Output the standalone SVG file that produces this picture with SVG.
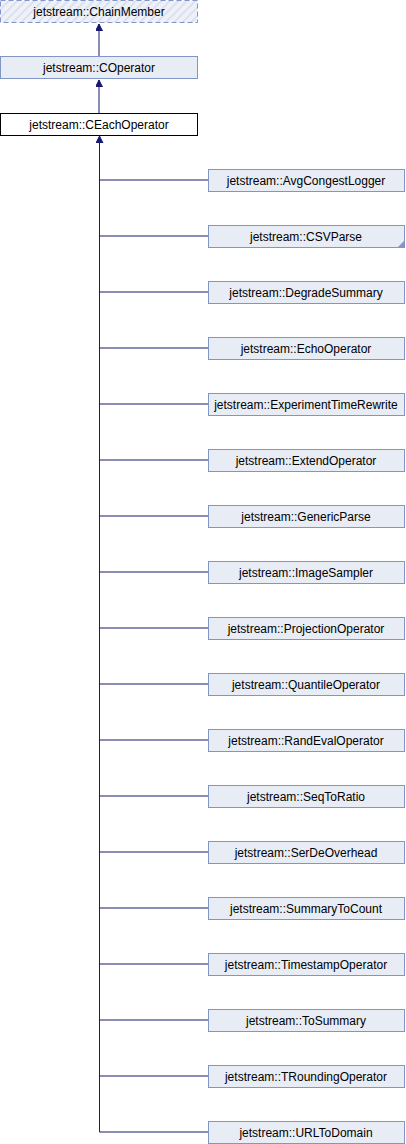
<svg xmlns="http://www.w3.org/2000/svg" width="406" height="1144" viewBox="0 0 406 1144">
<style>
.n{fill:#e8ecf5;stroke:#8196c6;stroke-width:1}
.t{font-family:"Liberation Sans",Arial,sans-serif;font-size:12px;text-anchor:middle;fill:#000}
.e{stroke:#191970;stroke-width:1;fill:none}
</style>
<defs>
<pattern id="h" width="6" height="6" patternUnits="userSpaceOnUse" patternTransform="rotate(45)">
<rect width="6" height="6" fill="#eef1f8"/>
<line x1="0" y1="0" x2="0" y2="6" stroke="#d6dcec" stroke-width="3"/>
</pattern>
<marker id="a" markerWidth="8" markerHeight="8" refX="7" refY="3.5" orient="auto" markerUnits="userSpaceOnUse">
<path d="M0,0 L7,3.5 L0,7 Z" fill="#191970" stroke="#191970"/>
</marker>
</defs>
<rect width="406" height="1144" fill="#fff"/>
<g id="edges">
<line class="e" x1="99" y1="56" x2="99" y2="24" marker-end="url(#a)"/>
<line class="e" x1="99" y1="113" x2="99" y2="80" marker-end="url(#a)"/>
<path class="e" d="M208,1132 H99.5 V136" marker-end="url(#a)"/>
<path class="e" d="M208,180H100M208,236H100M208,292H100M208,348H100M208,404H100M208,460H100M208,516H100M208,572H100M208,628H100M208,684H100M208,740H100M208,796H100M208,852H100M208,908H100M208,964H100M208,1020H100M208,1076H100"/>
</g>
<g id="ChainMember"><rect x="0.5" y="0.5" width="197" height="22" fill="url(#h)" stroke="#8196c6" stroke-dasharray="5,3"/><text class="t" x="99" y="16">jetstream::ChainMember</text></g>
<g id="COperator"><rect class="n" x="0.5" y="56.5" width="197" height="22"/><text class="t" x="99" y="72">jetstream::COperator</text></g>
<g id="CEachOperator"><rect x="0.5" y="113.5" width="197" height="22" fill="#fff" stroke="#000"/><text class="t" x="99" y="129">jetstream::CEachOperator</text></g>
<g id="AvgCongestLogger"><rect class="n" x="208.5" y="169.5" width="196" height="22"/><text class="t" x="306" y="185">jetstream::AvgCongestLogger</text></g>
<g id="CSVParse"><rect class="n" x="208.5" y="225.5" width="196" height="22"/><path d="M404,241 L404,247 L398,247 Z" fill="#8196c6"/><text class="t" x="306" y="241">jetstream::CSVParse</text></g>
<g id="DegradeSummary"><rect class="n" x="208.5" y="281.5" width="196" height="22"/><text class="t" x="306" y="297">jetstream::DegradeSummary</text></g>
<g id="EchoOperator"><rect class="n" x="208.5" y="337.5" width="196" height="22"/><text class="t" x="306" y="353">jetstream::EchoOperator</text></g>
<g id="ExperimentTimeRewrite"><rect class="n" x="208.5" y="393.5" width="196" height="22"/><text class="t" x="306" y="409">jetstream::ExperimentTimeRewrite</text></g>
<g id="ExtendOperator"><rect class="n" x="208.5" y="449.5" width="196" height="22"/><text class="t" x="306" y="465">jetstream::ExtendOperator</text></g>
<g id="GenericParse"><rect class="n" x="208.5" y="505.5" width="196" height="22"/><text class="t" x="306" y="521">jetstream::GenericParse</text></g>
<g id="ImageSampler"><rect class="n" x="208.5" y="561.5" width="196" height="22"/><text class="t" x="306" y="577">jetstream::ImageSampler</text></g>
<g id="ProjectionOperator"><rect class="n" x="208.5" y="617.5" width="196" height="22"/><text class="t" x="306" y="633">jetstream::ProjectionOperator</text></g>
<g id="QuantileOperator"><rect class="n" x="208.5" y="673.5" width="196" height="22"/><text class="t" x="306" y="689">jetstream::QuantileOperator</text></g>
<g id="RandEvalOperator"><rect class="n" x="208.5" y="729.5" width="196" height="22"/><text class="t" x="306" y="745">jetstream::RandEvalOperator</text></g>
<g id="SeqToRatio"><rect class="n" x="208.5" y="785.5" width="196" height="22"/><text class="t" x="306" y="801">jetstream::SeqToRatio</text></g>
<g id="SerDeOverhead"><rect class="n" x="208.5" y="841.5" width="196" height="22"/><text class="t" x="306" y="857">jetstream::SerDeOverhead</text></g>
<g id="SummaryToCount"><rect class="n" x="208.5" y="897.5" width="196" height="22"/><text class="t" x="306" y="913">jetstream::SummaryToCount</text></g>
<g id="TimestampOperator"><rect class="n" x="208.5" y="953.5" width="196" height="22"/><text class="t" x="306" y="969">jetstream::TimestampOperator</text></g>
<g id="ToSummary"><rect class="n" x="208.5" y="1009.5" width="196" height="22"/><text class="t" x="306" y="1025">jetstream::ToSummary</text></g>
<g id="TRoundingOperator"><rect class="n" x="208.5" y="1065.5" width="196" height="22"/><text class="t" x="306" y="1081">jetstream::TRoundingOperator</text></g>
<g id="URLToDomain"><rect class="n" x="208.5" y="1121.5" width="196" height="22"/><text class="t" x="306" y="1137">jetstream::URLToDomain</text></g>
</svg>
